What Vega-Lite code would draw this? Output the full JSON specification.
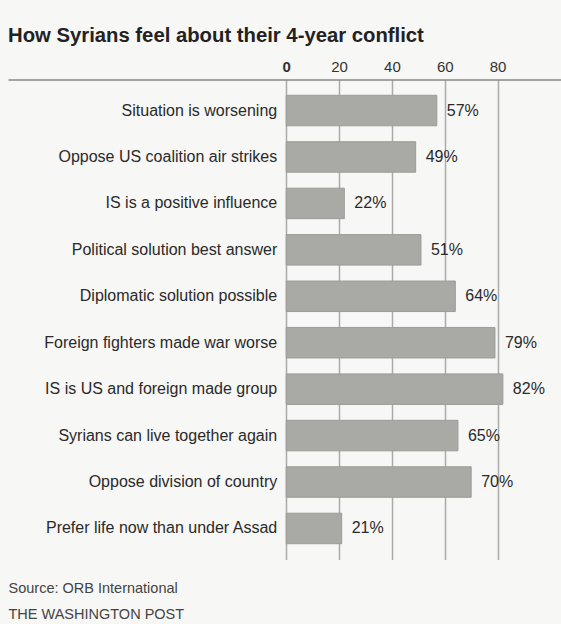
{
  "$schema": "https://vega.github.io/schema/vega-lite/v6.json",
  "autosize": {"type": "none"},
  "padding": {"left": 8, "top": 79.5, "right": 0, "bottom": 64.5},
  "width": 553,
  "height": 480,
  "background": "#f7f7f5",
  "title": {
    "text": "How Syrians feel about their 4-year conflict",
    "anchor": "start",
    "frame": "group",
    "font": "Liberation Sans",
    "fontSize": 20.3,
    "fontWeight": "bold",
    "color": "#222222",
    "baseline": "alphabetic",
    "offset": 20,
    "dy": 23
  },
  "data": {
    "values": [
      {"item": "Situation is worsening", "value": 57},
      {"item": "Oppose US coalition air strikes", "value": 49},
      {"item": "IS is a positive influence", "value": 22},
      {"item": "Political solution best answer", "value": 51},
      {"item": "Diplomatic solution possible", "value": 64},
      {"item": "Foreign fighters made war worse", "value": 79},
      {"item": "IS is US and foreign made group", "value": 82},
      {"item": "Syrians can live together again", "value": 65},
      {"item": "Oppose division of country", "value": 70},
      {"item": "Prefer life now than under Assad", "value": 21}
    ]
  },
  "transform": [{"calculate": "datum.value + '%'", "as": "label"}],
  "encoding": {
    "y": {
      "field": "item",
      "type": "nominal",
      "sort": null,
      "axis": null,
      "scale": {"paddingInner": 0.343, "paddingOuter": 0.34}
    }
  },
  "layer": [
    {
      "mark": {"type": "bar", "fill": "#a9aaa5", "stroke": "#9c9d98", "strokeWidth": 1},
      "encoding": {
        "x": {
          "field": "value",
          "type": "quantitative",
          "scale": {"domain": [-105.3, 104], "nice": false, "zero": false},
          "axis": {
            "orient": "top",
            "values": [0, 20, 40, 60, 80],
            "title": null,
            "grid": true,
            "gridColor": "#aaaaaa",
            "gridWidth": 1.5,
            "domain": true,
            "domainColor": "#888888",
            "domainWidth": 1.5,
            "ticks": false,
            "labelPadding": 5,
            "labelFont": "Liberation Sans",
            "labelFontSize": 15,
            "labelColor": "#333333",
            "labelFontWeight": {"condition": {"test": "datum.value == 0", "value": "bold"}, "value": "normal"}
          }
        },
        "x2": {"datum": 0}
      }
    },
    {
      "mark": {"type": "text", "align": "left", "baseline": "middle", "dx": 10, "font": "Liberation Sans", "fontSize": 16, "color": "#2a2a2a"},
      "encoding": {
        "x": {"field": "value", "type": "quantitative", "axis": null},
        "text": {"field": "label"}
      }
    },
    {
      "mark": {"type": "text", "align": "right", "baseline": "middle", "dx": -9, "font": "Liberation Sans", "fontSize": 16, "color": "#2a2a2a"},
      "encoding": {
        "x": {
          "datum": 0,
          "type": "quantitative",
          "axis": {
            "orient": "bottom",
            "title": ["Source: ORB International", "THE WASHINGTON POST"],
            "titleX": 0,
            "titleY": 32.5,
            "titleAlign": "left",
            "titleAnchor": "start",
            "titleBaseline": "alphabetic",
            "titleFont": "Liberation Sans",
            "titleFontSize": 14.5,
            "titleFontWeight": "normal",
            "titleColor": "#444444",
            "titleLineHeight": 26,
            "domain": false,
            "ticks": false,
            "labels": false,
            "grid": false
          }
        },
        "text": {"field": "item"}
      }
    },
    {
      "mark": {"type": "rule", "color": "#555555", "strokeWidth": 1.5},
      "encoding": {
        "x": {"datum": 0, "type": "quantitative", "axis": null}
      }
    }
  ],
  "resolve": {"axis": {"x": "independent"}},
  "config": {"view": {"stroke": null}}
}
